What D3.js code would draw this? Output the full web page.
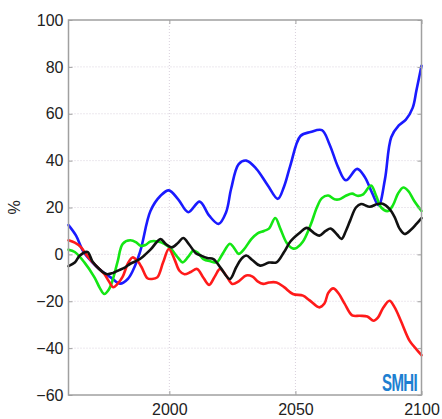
<!DOCTYPE html>
<html>
<head>
<meta charset="utf-8">
<script src="https://cdn.jsdelivr.net/npm/d3@7"></script>
<style>
  html, body { margin: 0; padding: 0; background: #fff; }
  svg { display: block; }
</style>
</head>
<body>
<div id="chart"></div>
<script>
// ---- data ----
const xTicks = [2000, 2050, 2100];
const yTicks = [-60, -40, -20, 0, 20, 40, 60, 80, 100];
const yLabel = "%";
const logoText = "SMHI";

const blueSeries = [
  [1960, 12.5], [1963, 8], [1966, 1], [1970, -4], [1973, -7], [1977, -10], [1980.5, -12.5],
  [1983.5, -10.5], [1985.5, -7], [1988.5, 1.5], [1992.5, 18.5], [1996.5, 25], [1999.8, 27.3],
  [2003.5, 23.5], [2007.5, 18], [2012, 22.5], [2015.8, 16.5], [2019.5, 13], [2022.5, 18],
  [2024.5, 28], [2027.5, 38.5], [2030.5, 40], [2034.5, 36.5], [2039, 29.5], [2043, 23.7],
  [2045.5, 29], [2048, 38], [2052, 50.5], [2056, 52.2], [2060.5, 53], [2063.5, 47],
  [2067, 37], [2070, 31.6], [2074.5, 36.5], [2077.5, 33], [2080.5, 26], [2083, 21],
  [2085.5, 32], [2088, 50], [2091, 55], [2093.8, 57.5], [2096.5, 62.5], [2098, 70], [2100, 80.5]
];
const blackSeries = [
  [1960, -5], [1962.5, -3.5], [1964.5, -0.5], [1967.5, 1], [1969.5, -3], [1972, -6],
  [1975, -8.4], [1977.5, -8], [1979.5, -7], [1982.5, -5.5], [1984.5, -4], [1987.5, -2.5],
  [1989.5, -1], [1992.5, 2], [1996.5, 6.5], [1998.5, 4.5], [2001, 3], [2003.5, 5],
  [2005.5, 7], [2008, 4], [2010.5, 0.5], [2012.5, -0.5], [2015, -1.5], [2017.5, -2],
  [2020.5, -6], [2024, -10.5], [2026.5, -5.5], [2028.5, -2], [2030.5, -0.5], [2033, -2.5],
  [2036, -4.8], [2039.5, -3.5], [2042.5, -3.4], [2045.5, 1], [2048, 5.5], [2051.5, 9],
  [2054.5, 11.3], [2057.5, 9], [2059.5, 8], [2062, 10], [2064, 11], [2066.5, 8.5],
  [2068.3, 6.6], [2070, 10], [2071.7, 14.4], [2074, 20], [2076, 21.5], [2079.5, 20.3],
  [2082.5, 21.5], [2084.6, 21.6], [2087.2, 19.5], [2089.3, 16], [2091.3, 11],
  [2093.3, 8.7], [2095.8, 10.5], [2098, 13], [2100, 15.5]
];
const greenSeries = [
  [1960, 2], [1962.5, 1], [1966.3, -3.4], [1970.3, -9.8], [1972.5, -14.5], [1974.2, -16.9],
  [1976, -15], [1977.5, -11], [1979.5, -3], [1981.5, 4.5], [1984.5, 6], [1987, 5],
  [1988.5, 3.7], [1990.5, 4], [1992.5, 5.5], [1995.5, 5.5], [1998, 4.5], [2000.5, 2.5],
  [2003.5, -1.5], [2005.3, -3.4], [2007.5, -1], [2009.5, 1.6], [2011.5, 0.5], [2013.5, -2],
  [2016.5, -3], [2018.8, -3.4], [2021, 0], [2024, 4.5], [2025.5, 3], [2027.5, 0.2],
  [2029.5, 2], [2032.5, 6.5], [2035, 9], [2037.5, 10], [2039.5, 11], [2042, 15.5],
  [2044, 11], [2046.5, 5], [2049, 2.5], [2050.5, 2.8], [2053, 5.5], [2056, 12.5],
  [2058.5, 20], [2060.5, 24], [2063, 25.1], [2065.5, 23.5], [2067.5, 23.5], [2070, 25],
  [2072.5, 25.9], [2074.5, 25], [2076.7, 25.5], [2080, 29.4], [2082, 25], [2084, 20],
  [2086.7, 18.5], [2088.7, 21], [2090.7, 26], [2092.8, 28.5], [2094.8, 27], [2097, 23],
  [2100, 18.5]
];
const redSeries = [
  [1960, 6], [1962.5, 5], [1965, 3], [1967, 0], [1969, -2.7], [1971.5, -5.5], [1974.2, -8.4],
  [1976, -11.5], [1977.7, -14], [1979.5, -12.5], [1981.5, -9.5], [1983.5, -4], [1985.4, -1.3],
  [1987.5, -3], [1989, -5.5], [1991.3, -10.2], [1993, -10.5], [1995.2, -9.8], [1997.5, -3.5],
  [1999.8, 2.3], [2002, -2], [2004, -7], [2006, -8.5], [2008.5, -7.5], [2011, -6.2],
  [2013.5, -10], [2015.8, -13], [2018, -9.5], [2020.1, -6.2], [2022.5, -9], [2025, -12.6],
  [2027.5, -11.5], [2030.5, -9], [2033, -9.5], [2035, -11.5], [2037.2, -12.6], [2039.5, -12],
  [2042.5, -12], [2045.5, -14], [2049, -16.9], [2053, -17.6], [2055.5, -19.5], [2059.5, -22.6],
  [2061.5, -21], [2063, -16.5], [2065, -14.5], [2067, -16.5], [2069.5, -21], [2072.5, -26],
  [2075.5, -26.2], [2078.5, -26.5], [2081, -28.3], [2082.7, -27], [2084.7, -23],
  [2087.3, -19.8], [2089.3, -22.5], [2091.8, -28.3], [2095.3, -36.9], [2098, -40.5], [2100, -43]
];

const seriesList = [
  { data: blueSeries,  color: "#1a1aff" },
  { data: greenSeries, color: "#14e614" },
  { data: redSeries,   color: "#ff1a1a" },
  { data: blackSeries, color: "#111111" }
];

// ---- layout ----
const W = 442, H = 419;
const mLeft = 68.5, mRight = 421.5, mTop = 20, mBottom = 395;

const svg = d3.select("#chart").append("svg")
  .attr("width", W).attr("height", H);

const x = d3.scaleLinear().domain([1960, 2100]).range([mLeft, mRight]);
const y = d3.scaleLinear().domain([-60, 100]).range([mBottom, mTop]);

const fontFam = "'Liberation Sans', Arial, Helvetica, sans-serif";

// grid
const grid = svg.append("g");
grid.selectAll("line.hg").data(yTicks.filter(d => d > -60 && d < 100)).join("line")
  .attr("x1", mLeft).attr("x2", mRight)
  .attr("y1", d => y(d)).attr("y2", d => y(d))
  .attr("stroke", "#d9d0dc").attr("stroke-width", 1)
  .attr("stroke-dasharray", "1,2");
grid.selectAll("line.vg").data(xTicks.filter(d => d < 2100)).join("line")
  .attr("y1", mTop).attr("y2", mBottom)
  .attr("x1", d => x(d)).attr("x2", d => x(d))
  .attr("stroke", "#d9d0dc").attr("stroke-width", 1)
  .attr("stroke-dasharray", "1,2");

// lines
const line = d3.line()
  .x(d => x(d[0])).y(d => y(d[1]))
  .curve(d3.curveCatmullRom.alpha(0.5));

svg.append("g").selectAll("path").data(seriesList).join("path")
  .attr("d", s => line(s.data))
  .attr("fill", "none")
  .attr("stroke", s => s.color)
  .attr("stroke-width", 2.6)
  .attr("stroke-linejoin", "round")
  .attr("stroke-linecap", "round");

// axes
const axisColor = "#a0a0a0";
function styleAxis(g) {
  g.select(".domain").remove();
  g.selectAll(".tick line").attr("stroke", axisColor).attr("stroke-width", 1);
  g.selectAll(".tick text")
    .attr("fill", "#222")
    .style("font-family", fontFam)
    .style("font-size", "16px");
}

svg.append("g").attr("transform", `translate(${mLeft},0)`)
  .call(d3.axisLeft(y).tickValues(yTicks).tickSize(-4).tickPadding(5).tickFormat(d3.format("d")))
  .call(styleAxis);
svg.append("g").attr("transform", `translate(${mRight},0)`)
  .call(d3.axisRight(y).tickValues(yTicks).tickSize(-4).tickFormat(""))
  .call(styleAxis);
svg.append("g").attr("transform", `translate(0,${mBottom})`)
  .call(d3.axisBottom(x).tickValues(xTicks).tickSize(-4).tickPadding(9).tickFormat(d3.format("d")))
  .call(styleAxis);
svg.append("g").attr("transform", `translate(0,${mTop})`)
  .call(d3.axisTop(x).tickValues(xTicks).tickSize(-4).tickFormat(""))
  .call(styleAxis);

// frame
svg.append("rect")
  .attr("x", mLeft).attr("y", mTop)
  .attr("width", mRight - mLeft).attr("height", mBottom - mTop)
  .attr("fill", "none").attr("stroke", axisColor).attr("stroke-width", 1.5);

// y label
svg.append("text")
  .attr("transform", `translate(20,${(mTop + mBottom) / 2}) rotate(-90)`)
  .attr("text-anchor", "middle")
  .attr("fill", "#222")
  .style("font-family", fontFam)
  .style("font-size", "16px")
  .text(yLabel);

// logo
svg.append("text")
  .attr("x", 382).attr("y", 391)
  .attr("textLength", 35).attr("lengthAdjust", "spacingAndGlyphs")
  .attr("fill", "#1d7fd1")
  .style("font-family", "'Liberation Sans Narrow', 'Liberation Sans', Arial, sans-serif")
  .style("font-weight", "bold")
  .style("font-size", "23px")
  .style("letter-spacing", "-1px")
  .text(logoText);
</script>
</body>
</html>
